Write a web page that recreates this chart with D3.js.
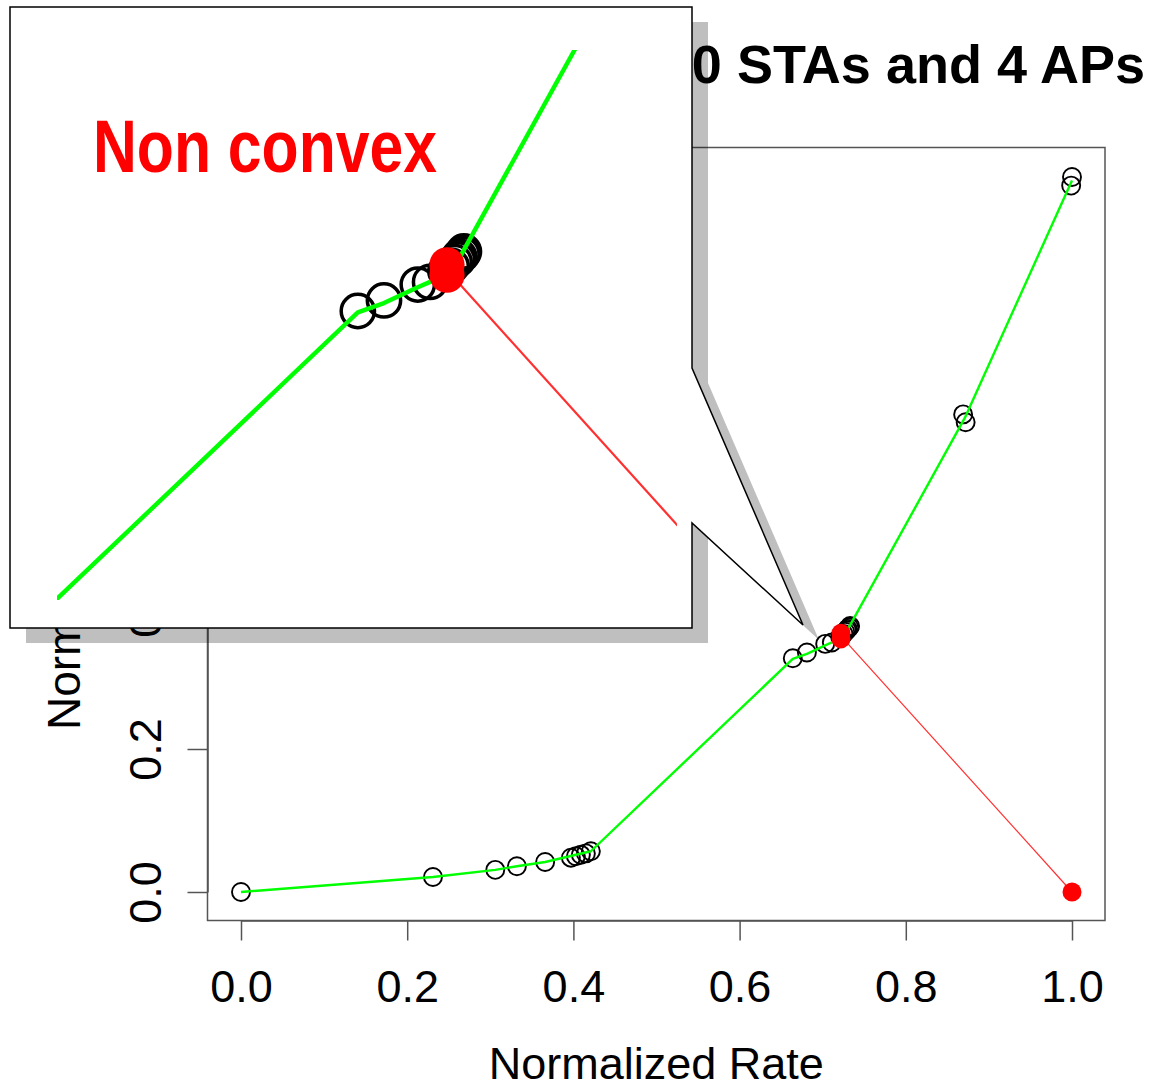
<!DOCTYPE html>
<html>
<head>
<meta charset="utf-8">
<script src="https://d3js.org/d3.v7.min.js"></script>
<style>
  body { margin: 0; background: #ffffff; }
  text { font-family: "Liberation Sans", Arial, Helvetica, sans-serif; fill: #000000; }
</style>
</head>
<body>
<div id="chart"></div>
<script>
// configurations found (black circles)
const pointX = [0, 0.231, 0.306, 0.332, 0.366, 0.397, 0.403, 0.409, 0.415, 0.421,
                0.664, 0.681, 0.703, 0.711, 0.721, 0.725, 0.727, 0.729, 0.730, 0.732, 0.733,
                0.869, 0.872, 1.0, 0.999];
const pointY = [0, 0.021, 0.031, 0.036, 0.042, 0.048, 0.050, 0.052, 0.054, 0.057,
                0.327, 0.335, 0.347, 0.349, 0.357, 0.361, 0.364, 0.366, 0.368, 0.370, 0.372,
                0.668, 0.657, 1.0, 0.988];

// green front
const frontX = [0, 0.231, 0.306, 0.332, 0.366, 0.421, 0.664, 0.681, 0.703, 0.711, 0.722, 0.731, 0.871, 1.0];
const frontY = [0, 0.021, 0.031, 0.036, 0.042, 0.057, 0.326, 0.333, 0.345, 0.349, 0.358, 0.369, 0.663, 0.995];

// red points and the red segment between them
const redX = [0.722, 0.722, 1.0];
const redY = [0.354, 0.362, 0.0];
const redLineX = [0.722, 1.0];
const redLineY = [0.358, 0.0];

const xTicks = [0, 0.2, 0.4, 0.6, 0.8, 1.0];
const yTicks = [0, 0.2, 0.4, 0.6, 0.8, 1.0];

const titleText = "0 STAs and 4 APs";
const xLabel = "Normalized Rate";
const yLabel = "Normalized Energy";
const calloutText = "Non convex";

const W = 1150, H = 1088;
const box = {left: 207.5, right: 1105, top: 147.5, bottom: 920.5};

const svg = d3.select("#chart").append("svg")
    .attr("width", W).attr("height", H)
    .attr("viewBox", `0 0 ${W} ${H}`);

svg.append("rect").attr("width", W).attr("height", H).attr("fill", "#ffffff");

const xScale = d3.scaleLinear().domain([0, 1]).range([241, 1072]);
const yScale = d3.scaleLinear().domain([0, 1]).range([892, 177]);

// title (left part sits under the callout)
svg.append("text")
    .attr("x", 1145).attr("y", 83)
    .attr("text-anchor", "end")
    .style("font-size", "54px").style("font-weight", "bold")
    .text(titleText);

// plot box
svg.append("rect")
    .attr("x", box.left).attr("y", box.top)
    .attr("width", box.right - box.left).attr("height", box.bottom - box.top)
    .attr("fill", "none").attr("stroke", "#555").attr("stroke-width", 1.5);

// x axis
const xAxis = svg.append("g")
    .attr("transform", `translate(0, ${box.bottom})`)
    .call(d3.axisBottom(xScale).tickValues(xTicks).tickSize(20).tickSizeOuter(0)
        .tickPadding(30).tickFormat(d3.format(".1f")));
xAxis.selectAll("line, path").attr("stroke", "#555").attr("stroke-width", 1.5);
xAxis.selectAll("text").style("font-size", "45px").style("font-family", "Liberation Sans, Arial, sans-serif").attr("fill", "#000");

// y axis
const yAxis = svg.append("g")
    .attr("transform", `translate(${box.left}, 0)`)
    .call(d3.axisLeft(yScale).tickValues(yTicks).tickSize(20).tickSizeOuter(0)
        .tickFormat(d3.format(".1f")));
yAxis.selectAll("line, path").attr("stroke", "#555").attr("stroke-width", 1.5);
yAxis.selectAll(".tick text")
    .attr("x", 0).attr("y", 0).attr("dy", 0)
    .attr("text-anchor", "middle")
    .attr("transform", "translate(-47, 0) rotate(-90)")
    .style("font-size", "45px").style("font-family", "Liberation Sans, Arial, sans-serif")
    .attr("fill", "#000");

// axis labels
svg.append("text")
    .attr("x", (box.left + box.right) / 2).attr("y", 1079)
    .attr("text-anchor", "middle")
    .style("font-size", "45px")
    .text(xLabel);

svg.append("text")
    .attr("transform", "translate(80, 730) rotate(-90)")
    .attr("text-anchor", "start")
    .style("font-size", "46px")
    .text(yLabel);

// draws circles, front and red marks into a group
function drawContent(g) {
    const pts = d3.zip(pointX, pointY);
    g.selectAll("circle.pt")
        .data(pts)
        .join("circle")
        .attr("class", "pt")
        .attr("cx", d => xScale(d[0]))
        .attr("cy", d => yScale(d[1]))
        .attr("r", 9)
        .attr("fill", "none")
        .attr("stroke", "#000")
        .attr("stroke-width", 1.9);

    const line = d3.line().x(d => xScale(d[0])).y(d => yScale(d[1]));

    g.append("path")
        .attr("d", line(d3.zip(frontX, frontY)))
        .attr("fill", "none")
        .attr("stroke", "#00ff00")
        .attr("stroke-width", 2.4)
        .attr("stroke-linejoin", "round");

    g.append("path")
        .attr("d", line(d3.zip(redLineX, redLineY)))
        .attr("fill", "none")
        .attr("stroke", "#ff3030")
        .attr("stroke-width", 1.2);

    g.selectAll("circle.red")
        .data(d3.zip(redX, redY))
        .join("circle")
        .attr("class", "red")
        .attr("cx", d => xScale(d[0]))
        .attr("cy", d => yScale(d[1]))
        .attr("r", 9.5)
        .attr("fill", "#ff0000");
}

drawContent(svg.append("g"));

// callout with shadow
const callout = [[10, 7], [692, 7], [692, 368], [803, 625], [692, 523], [692, 628], [10, 628]];
const shadowOff = [16, 15];

svg.append("polygon")
    .attr("points", callout.map(p => [p[0] + shadowOff[0], p[1] + shadowOff[1]].join(",")).join(" "))
    .attr("fill", "#000").attr("fill-opacity", 0.25);

svg.append("polygon")
    .attr("points", callout.map(p => p.join(",")).join(" "))
    .attr("fill", "#ffffff").attr("stroke", "#000").attr("stroke-width", 1.5)
    .attr("stroke-linejoin", "miter");

// zoomed view inside callout
const zoomK = 1.85;
const anchor = [447, 270];
const fx = xScale(redLineX[0]), fy = yScale(redLineY[0]);

svg.append("clipPath").attr("id", "insetClip")
    .append("rect").attr("x", 57).attr("y", 50).attr("width", 620).attr("height", 550);

const inset = svg.append("g").attr("clip-path", "url(#insetClip)")
    .append("g")
    .attr("transform", `translate(${anchor[0] - fx * zoomK}, ${anchor[1] - fy * zoomK}) scale(${zoomK})`);
drawContent(inset);

svg.append("text")
    .attr("x", 93).attr("y", 172)
    .attr("textLength", 344).attr("lengthAdjust", "spacingAndGlyphs")
    .style("font-family", "'Liberation Sans Narrow', 'Arial Narrow', 'Liberation Sans', sans-serif")
    .style("font-size", "74px").style("font-weight", "bold")
    .attr("fill", "#ff0000").style("fill", "#ff0000")
    .text(calloutText);
</script>
</body>
</html>
